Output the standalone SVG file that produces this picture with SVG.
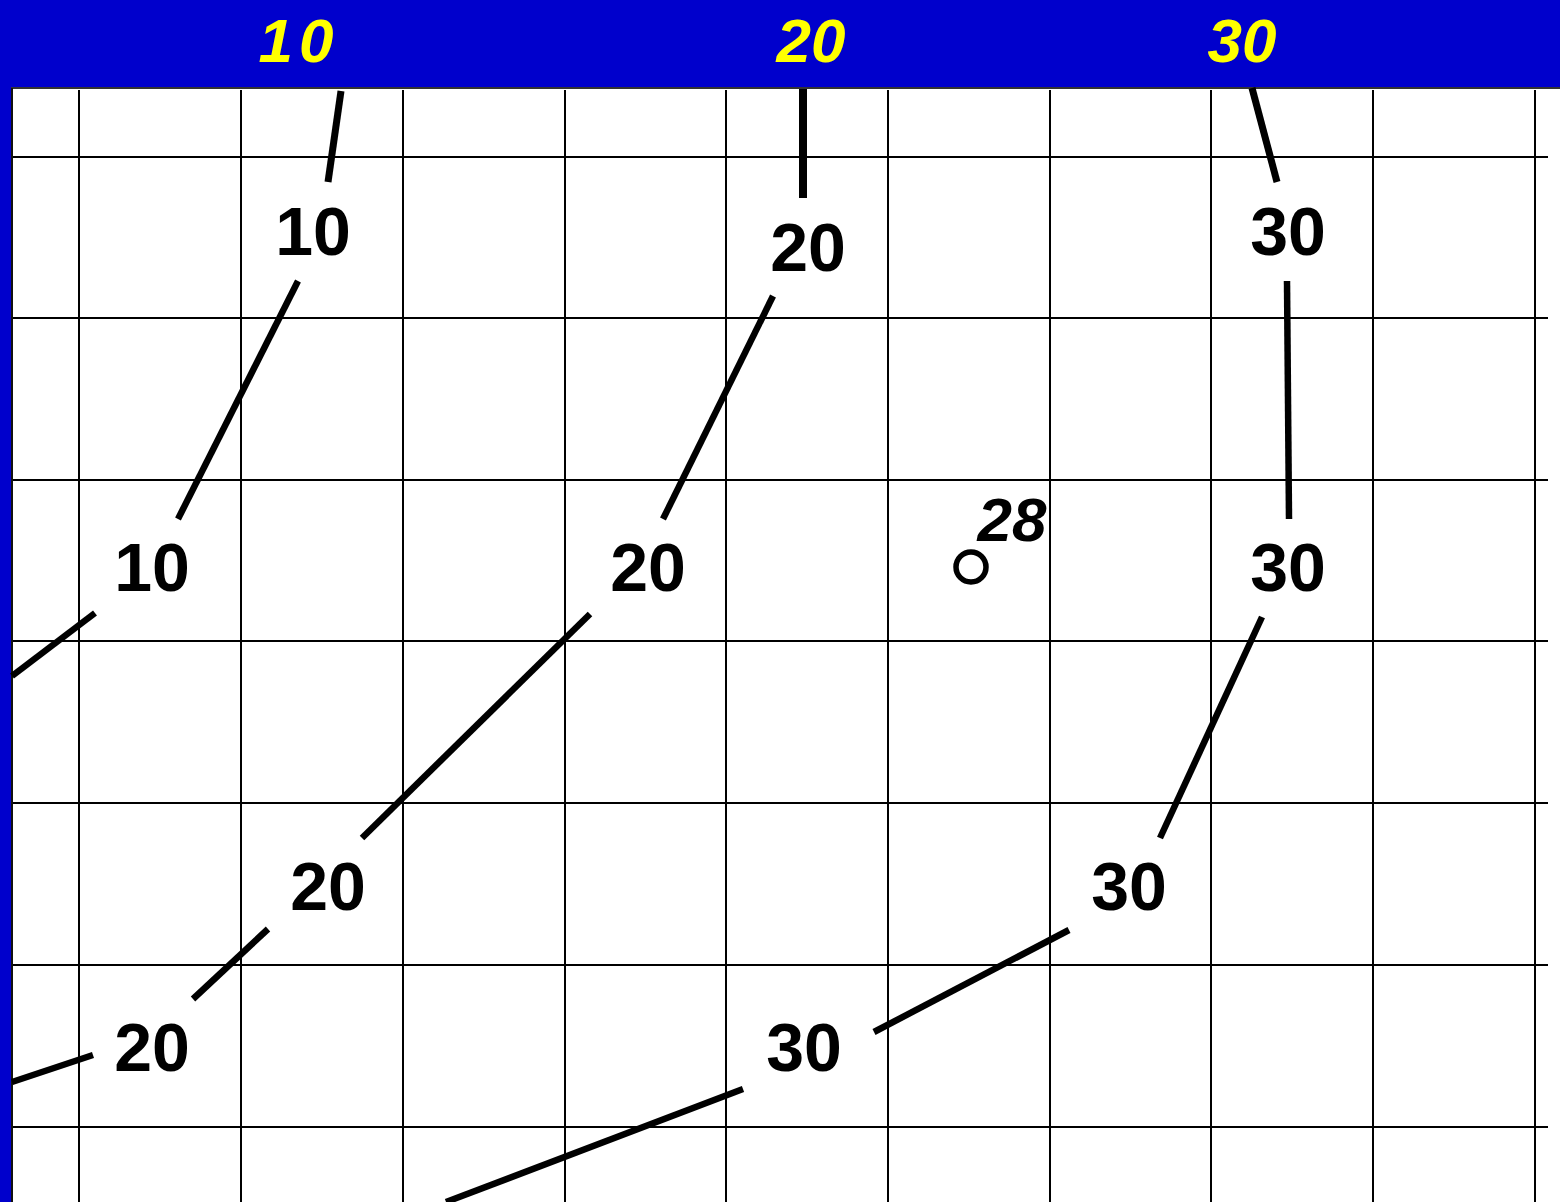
<svg xmlns="http://www.w3.org/2000/svg" width="1560" height="1202" viewBox="0 0 1560 1202">
<style>
.grid{stroke:#000;stroke-width:2;fill:none}
.con{stroke:#000;stroke-width:6.5;fill:none;stroke-linecap:butt}
.lbl{font-family:"Liberation Sans","DejaVu Sans",sans-serif;font-weight:bold;font-size:68px;fill:#000;text-anchor:middle}
.hdr{font-family:"Liberation Sans","DejaVu Sans",sans-serif;font-weight:bold;font-style:italic;font-size:62px;fill:#FFFF00;text-anchor:middle}
</style>
<rect x="0" y="0" width="1560" height="1202" fill="#fff"/>
<g id="grid" class="grid">
<path d="M79 90V1202M241 90V1202M403 90V1202M565 90V1202M726 90V1202M888 90V1202M1050 90V1202M1211 90V1202M1373 90V1202M1535 90V1202"/>
<path d="M12 157H1548M12 318H1548M12 480H1548M12 641H1548M12 803H1548M12 965H1548M12 1127H1548"/>
</g>
<g id="frame">
<rect x="0" y="0" width="1560" height="87" fill="#0000CC"/>
<rect x="0" y="0" width="11" height="1202" fill="#0000CC"/>
<line x1="11" y1="88" x2="1560" y2="88" stroke="#333" stroke-width="2"/>
<line x1="12" y1="88" x2="12" y2="1202" stroke="#111" stroke-width="2"/>
</g>
<g id="header">
<text class="hdr" x="299" y="62" letter-spacing="6">10</text>
<text class="hdr" x="811" y="62">20</text>
<text class="hdr" x="1242" y="62">30</text>
</g>
<g id="connectors" class="con">
<line x1="341" y1="91" x2="328" y2="182" stroke-width="7"/>
<line x1="803" y1="89" x2="803" y2="198" stroke-width="8"/>
<line x1="1252" y1="88" x2="1277" y2="182" stroke-width="7"/>
<line x1="298" y1="281" x2="178" y2="519"/>
<line x1="773" y1="296" x2="663" y2="519"/>
<line x1="1287" y1="281" x2="1289" y2="519"/>
<line x1="95" y1="613" x2="12" y2="676"/>
<line x1="590" y1="614" x2="362" y2="838"/>
<line x1="1262" y1="617" x2="1160" y2="838"/>
<line x1="268" y1="929" x2="193" y2="999"/>
<line x1="93" y1="1055" x2="12" y2="1082"/>
<line x1="1069" y1="930" x2="874" y2="1032"/>
<line x1="743" y1="1089" x2="446" y2="1202"/>
</g>
<g id="n1"><text class="lbl" x="313" y="255">10</text></g>
<g id="n2"><text class="lbl" x="808" y="271">20</text></g>
<g id="n3"><text class="lbl" x="1288" y="255">30</text></g>
<g id="n4"><text class="lbl" x="152" y="591">10</text></g>
<g id="n5"><text class="lbl" x="648" y="591">20</text></g>
<g id="n6"><text class="lbl" x="1288" y="591">30</text></g>
<g id="n7"><text class="lbl" x="328" y="910">20</text></g>
<g id="n8"><text class="lbl" x="1129" y="910">30</text></g>
<g id="n9"><text class="lbl" x="152" y="1071">20</text></g>
<g id="n10"><text class="lbl" x="804" y="1071">30</text></g>
<g id="station">
<circle cx="971" cy="567" r="15" fill="none" stroke="#000" stroke-width="5.5"/>
<text x="1012" y="541" font-family="Liberation Sans, DejaVu Sans, sans-serif" font-weight="bold" font-style="italic" font-size="62" text-anchor="middle">28</text>
</g>
</svg>
